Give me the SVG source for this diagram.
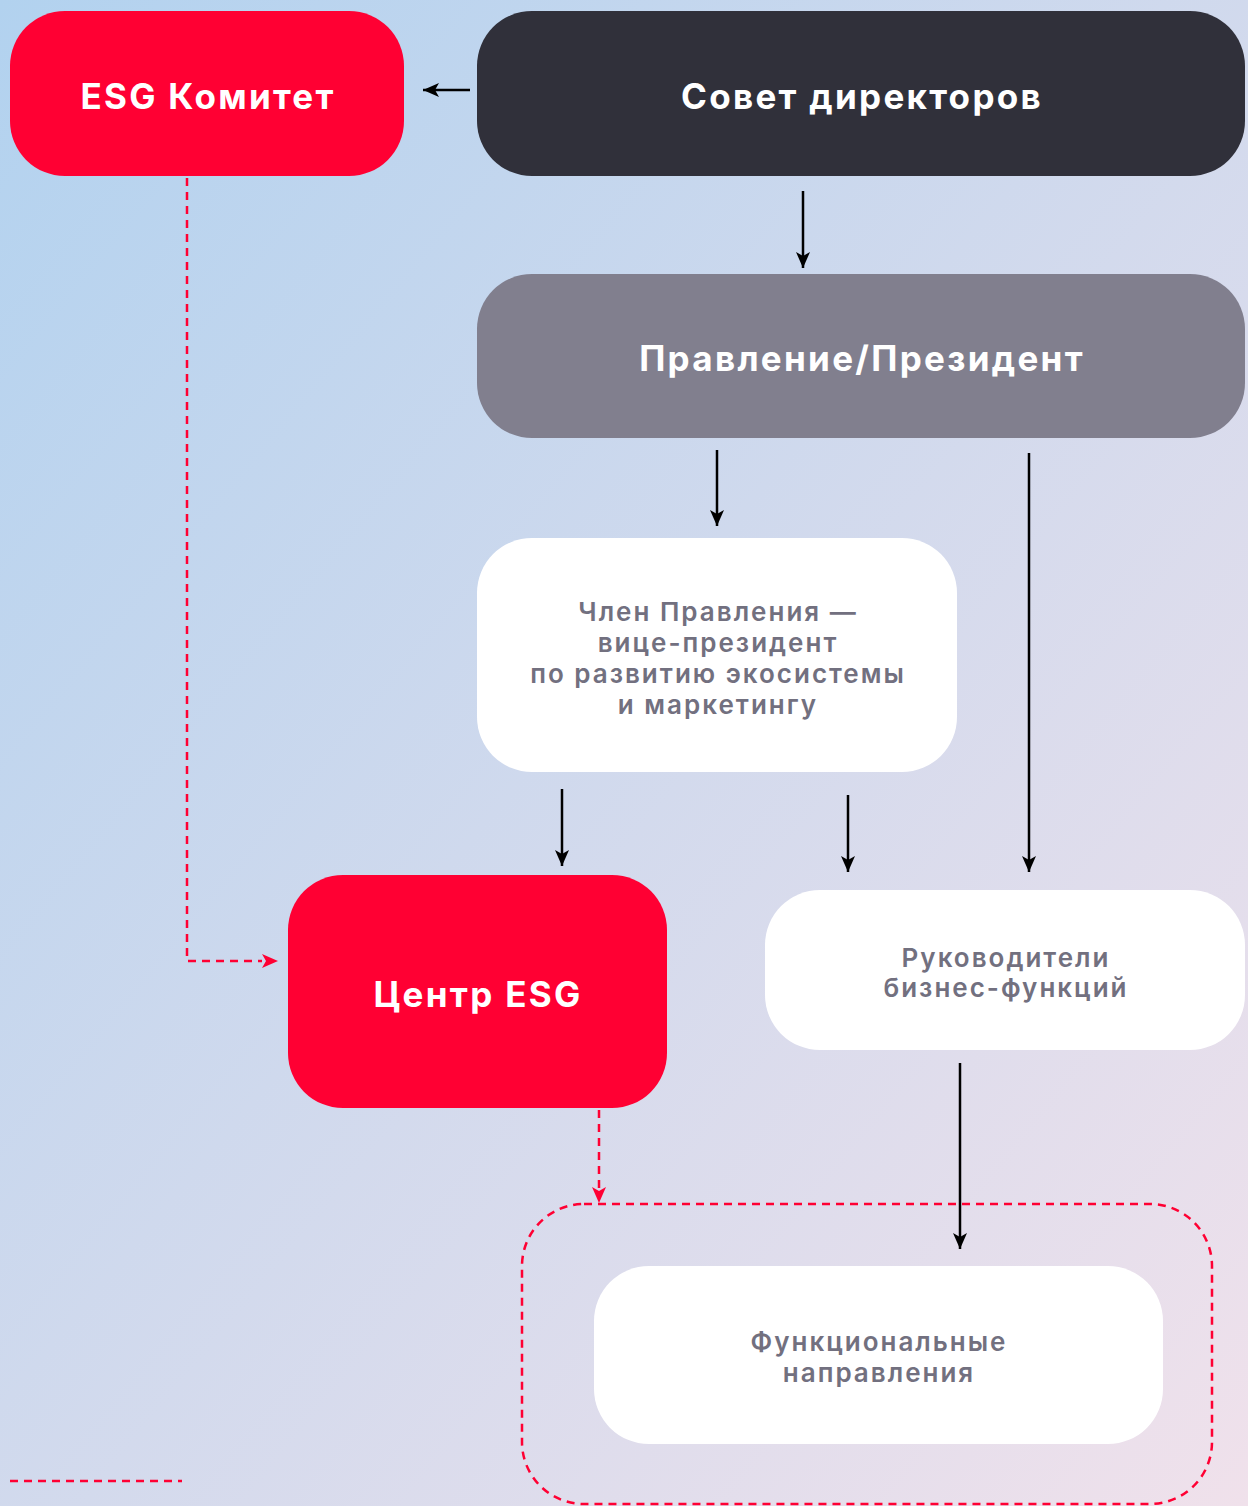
<svg xmlns="http://www.w3.org/2000/svg" width="1248" height="1506" viewBox="0 0 1248 1506">
<defs>
<linearGradient id="bg" x1="0" y1="0" x2="1" y2="1">
<stop offset="0" stop-color="#b2d2ef"/>
<stop offset="1" stop-color="#f0e1eb"/>
</linearGradient>
<marker id="ahk" viewBox="0 0 16 14" refX="16" refY="7" markerWidth="16" markerHeight="14" markerUnits="userSpaceOnUse" orient="auto">
<path d="M0,0 L16,7 L0,14 L4,7 z" fill="#000"/>
</marker>
<style>
.lbl{font-family:"Inter","Liberation Sans",sans-serif;text-anchor:middle}
.wt{fill:#ffffff;font-size:35px;font-weight:700;letter-spacing:2.3px}
.gt{fill:#72707f;font-size:26px;font-weight:600;letter-spacing:2px}
.ln{stroke:#000;stroke-width:2.5;fill:none;marker-end:url(#ahk)}
.dl{stroke:#ff0033;stroke-width:2.5;fill:none;stroke-dasharray:8 6}
</style>
</defs>
<rect width="1248" height="1506" fill="url(#bg)"/>

<g id="connectors">
<path class="ln" d="M470,90 L423,90"/>
<path class="ln" d="M803,191 L803,268"/>
<path class="ln" d="M717,450 L717,526"/>
<path class="ln" d="M1029,453 L1029,872"/>
<path class="ln" d="M562,789 L562,866"/>
<path class="ln" d="M848,795 L848,872"/>
<path class="ln" d="M960,1063 L960,1249"/>
<path class="dl" d="M187,178 L187,961 L262,961"/>
<path d="M262,954 L278,961 L262,968 L266,961 z" fill="#ff0033"/>
<path class="dl" d="M599,1110 L599,1188"/>
<path d="M592,1187 L599,1203 L606,1187 L599,1191 z" fill="#ff0033"/>
</g>

<g id="group-functional">
<rect x="522" y="1204" width="690" height="300" rx="62" class="dl"/>
</g>

<g id="node-esg-committee">
<rect x="10" y="11" width="394" height="165" rx="55" fill="#ff0033"/>
<text class="lbl wt" x="208" y="109">ESG Комитет</text>
</g>

<g id="node-board">
<rect x="477" y="11" width="768" height="165" rx="55" fill="#30303a"/>
<text class="lbl wt" x="862" y="109">Совет директоров</text>
</g>

<g id="node-management">
<rect x="477" y="274" width="768" height="164" rx="55" fill="#817f8e"/>
<text class="lbl wt" x="862" y="371">Правление/Президент</text>
</g>

<g id="node-vp">
<rect x="477" y="538" width="480" height="234" rx="55" fill="#ffffff"/>
<text class="lbl gt" x="718" y="621">Член Правления —</text>
<text class="lbl gt" x="718" y="652">вице-президент</text>
<text class="lbl gt" x="718" y="683">по развитию экосистемы</text>
<text class="lbl gt" x="718" y="714">и маркетингу</text>
</g>

<g id="node-esg-center">
<rect x="288" y="875" width="379" height="233" rx="55" fill="#ff0033"/>
<text class="lbl wt" x="478" y="1007">Центр ESG</text>
</g>

<g id="node-heads">
<rect x="765" y="890" width="480" height="160" rx="55" fill="#ffffff"/>
<text class="lbl gt" x="1006" y="967">Руководители</text>
<text class="lbl gt" x="1006" y="997">бизнес-функций</text>
</g>

<g id="node-functional">
<rect x="594" y="1266" width="569" height="178" rx="55" fill="#ffffff"/>
<text class="lbl gt" x="879" y="1351">Функциональные</text>
<text class="lbl gt" x="879" y="1382">направления</text>
</g>

<g id="legend">
<path class="dl" d="M10,1481 L182,1481"/>
</g>
</svg>
